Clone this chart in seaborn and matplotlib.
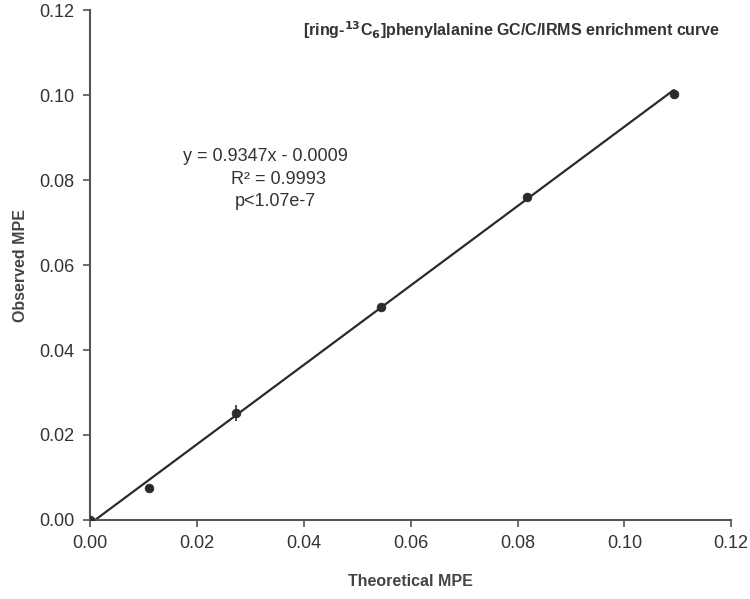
import numpy as np
import pandas as pd
import matplotlib
matplotlib.use("Agg")
import matplotlib.pyplot as plt
import seaborn as sns

# values
theoretical = [0.0, 0.011, 0.0273, 0.0545, 0.0818, 0.1092]
observed = [0.0, 0.0075, 0.0252, 0.0502, 0.0761, 0.1002]
obs_err = [0.0, 0.0, 0.0018, 0.0, 0.0, 0.0012]
slope, intercept = 0.9347, -0.0009
ticks = [0.0, 0.02, 0.04, 0.06, 0.08, 0.10, 0.12]
stats_lines = ["y = 0.9347x - 0.0009", "R² = 0.9993", "p<1.07e-7"]

df = pd.DataFrame({"Theoretical MPE": theoretical, "Observed MPE": observed})

sns.set_style("white")
plt.rcParams["font.family"] = ["Liberation Sans", "DejaVu Sans"]

fig = plt.figure(figsize=(7.5, 5.99), dpi=100)
ax = fig.add_axes([0.12, 0.132, 0.855, 0.851])

ink = "#2b2b2b"
xfit = np.array([0.0, theoretical[-1]])
ax.plot(xfit, slope * xfit + intercept, color=ink, lw=1.6, zorder=2)
ax.errorbar(theoretical, observed, yerr=obs_err, fmt="none", ecolor=ink, elinewidth=1.2, capsize=0, zorder=3)
sns.scatterplot(data=df, x="Theoretical MPE", y="Observed MPE", ax=ax, color=ink, s=40, edgecolor=ink, zorder=4)

ax.set_xlim(0, 0.12)
ax.set_ylim(0, 0.12)
ax.set_xticks(ticks)
ax.set_yticks(ticks)
ax.set_xticklabels([f"{t:.2f}" for t in ticks])
ax.set_yticklabels([f"{t:.2f}" for t in ticks])
for side in ["top", "right"]:
    ax.spines[side].set_visible(False)
for side in ["left", "bottom"]:
    ax.spines[side].set_color("#555555")
    ax.spines[side].set_linewidth(1.5)
ax.tick_params(axis="both", direction="out", length=5, width=1.2, color="#555555",
               labelsize=13, labelcolor="#333333", left=True, bottom=True, pad=6)
ax.set_xlabel("Theoretical MPE", fontsize=11.5, fontweight="bold", color="#444444", labelpad=16)
ax.set_ylabel("Observed MPE", fontsize=11.5, fontweight="bold", color="#444444", labelpad=8)

fig.text(512 / 750, 1 - 30 / 599,
         r"[ring-$^{\mathbf{13}}$C$_{\mathbf{6}}$]phenylalanine GC/C/IRMS enrichment curve",
         ha="center", va="center", fontsize=11.5, fontweight="bold", color="#333333")

# the three statistics lines, each centred where it sits in the reference
for line, xc, yc in zip(stats_lines, [0.0328, 0.0352, 0.0346], [0.0855, 0.0801, 0.0749]):
    ax.text(xc, yc, line, ha="center", va="center", fontsize=13, color="#333333")

fig.savefig("out.png", dpi=100)
